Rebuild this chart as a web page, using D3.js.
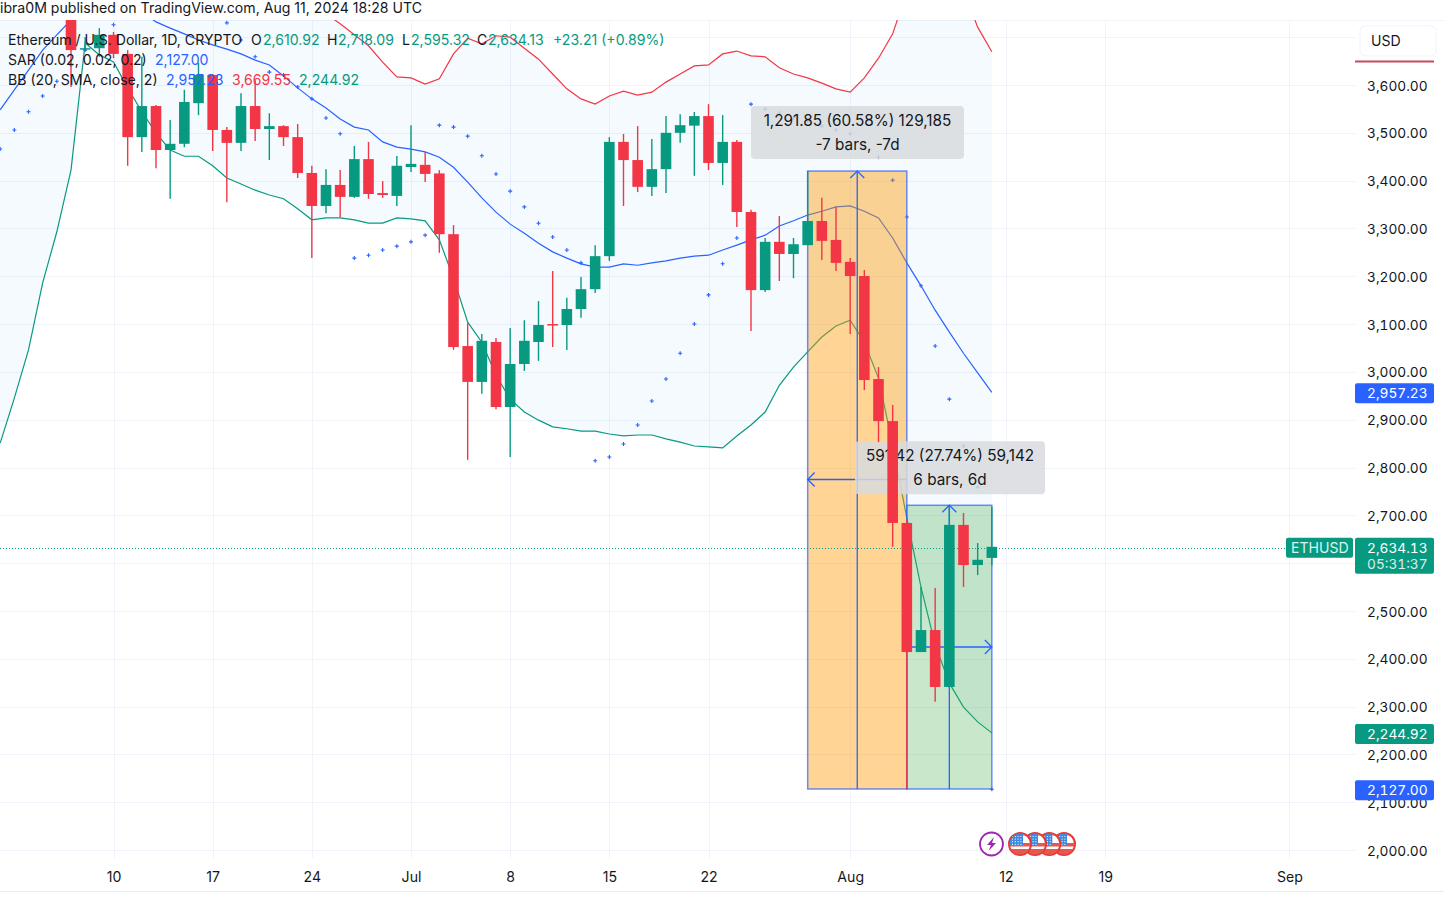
<!DOCTYPE html>
<html>
<head>
<meta charset="utf-8">
<style>
html,body{margin:0;padding:0;background:#fff;overflow:hidden}
svg{display:block}
text{font-family:Inter,"Noto Sans",sans-serif;font-size:14.1px;fill:#131722}
.num text, text.num{font-size:13.7px;font-feature-settings:"tnum"}
</style>
<script src="https://d3js.org/d3.v7.min.js"></script>
</head>
<body>
<svg id="c" width="1444" height="899"></svg>
<script>
// ---------- data ----------
const candleStart = "2024-06-07";
const opens  = [3752,3675,3677,3705,3665,3491,3556,3464,3477,3562,3621,3506,3479,3556,3508,3514,3491,3416,3347,3391,3366,3445,3374,3368,3428.5,3433,3415,3288,3054,2979,3062.5,2926.6,3016.5,3062.5,3100,3098,3131.5,3173,3242,3481,3443,3387,3424,3500,3515,3535,3437,3481,3334.4,3171,3272,3246.6,3265,3315.6,3276,3230,3200.5,2985,2897,2684,2414,2460,2341,2680,2596,2610.92];
const highs  = [3780,3700,3719,3711,3673,3659,3558,3527,3590,3646,3623,3512,3583,3610,3541,3516,3518.5,3431,3424,3422,3472.5,3481,3399,3451.5,3516,3460,3422,3307,3102,3079,3071,3092,3108,3148,3211,3155,3198.5,3265,3491,3497.5,3514,3487,3535,3539,3543.6,3560,3537,3485,3339,3280,3326,3280,3420,3364,3345,3238,3213,3010,2931,2690,2550,2548,2719.5,2705,2642,2718.09];
const lows   = [3596,3673,3659,3656,3431,3460,3426,3362,3470,3537,3462,3355,3462,3483,3443,3472.5,3405.5,3238,3332,3324,3364,3362,3364,3347,3418,3397,3249,3046,2816,2954,2922,2822,3002,3023,3052,3046,3113,3165,3232,3347,3376,3368,3374,3479,3410,3422,3391,3303,3085.5,3167,3190,3196,3265,3234,3211,3079,2962,2853,2634,2127,2414,2310,2339,2550,2575,2595.32];
const closes = [3673,3677,3705,3665,3491,3556,3464,3477,3564.5,3621,3506,3479,3556,3508,3514,3491,3416,3347,3391,3366,3445,3372,3370,3431,3435,3414,3288,3052,2979,3065,2926.6,3016.5,3065,3098,3098,3131.5,3173,3242,3481,3443,3387,3424,3500,3516,3535,3437,3481,3334.4,3171,3272,3246.6,3267,3315.6,3274,3228,3200.5,2983,2897,2684,2414,2460,2341,2680,2596,2607,2634.13];

const bandStart = "2024-06-02";
const bbBasis = [3548,3590,3631,3673,3705,3736,3767,3784,3794,3790,3753,3732,3719,3707,3694,3684,3675,3665,3652,3642,3619,3594,3571,3552,3529,3512,3506,3481,3470,3466,3460,3449,3428,3397,3364,3334,3309,3290,3269,3251,3238,3226,3219,3219,3226,3223,3228,3232,3238,3242,3244,3255,3265,3276,3286,3305,3316,3328,3336,3345,3347,3336,3322,3280,3228,3180,3129,3083,3039,2998,2957.23];
const bbUpper = [4245,4235,4216,4160,4117,4050,3950,3905,3940,3986,3962,3964,3974,3963,3937,3937,3925,3910,3885,3860,3825,3799,3769,3749,3728,3705,3682,3648,3617,3615,3602,3613,3665,3698,3686,3703,3700,3677,3654,3623,3592,3571,3560,3577,3587,3579,3585,3606,3623,3640,3642,3665,3671,3661,3659,3636,3623,3615,3604,3592,3585,3615,3656,3707,3795,3841,3861,3841,3799,3721,3669.55];
const bbLower = [2851,2945,3046,3186,3293,3422,3688,3663,3648,3594,3544,3500,3464,3451,3451,3431,3405.5,3393,3380,3370,3362,3341,3318,3322,3322,3318,3311,3311,3322,3320,3316,3276,3196,3104,3062,2993,2943,2916,2899,2885,2881,2876,2876,2870,2866,2868,2868,2860,2853,2845,2843,2841,2866,2889,2916,2972,3010,3042,3073,3096,3108,3062,2987,2847,2694,2550,2429,2349,2299,2268,2244.92];
const sar = [3466,3506,3544,3577,3608,3642,3673,3700,3726,3850,3835,3822,3810,3795,3780,3760,3730,3694,3659,3627,3621,3596,3571,3531,3498,3238,3244,3255,3263,3272,3286,3516,3512,3493,3452,3414,3378,3345,3311,3282,3255,3228,2814,2822,2849,2889,2939,2985,3039,3100,3161,3226,3280,3560,3550,3541,3531,3523,3514,3506,3498,3479,3449,3401,3324,3180,3054,2943,2845,2759,2127];

const priceTicks = [2000,2100,2200,2300,2400,2500,2600,2700,2800,2900,3000,3100,3200,3300,3400,3500,3600,3700];
const unlabelledPrices = [2600,3700];
const dateTicks = ["2024-06-10","2024-06-17","2024-06-24","2024-07-01","2024-07-08","2024-07-15","2024-07-22","2024-08-01","2024-08-12","2024-08-19","2024-09-01"];
const dateLabels = ["10","17","24","Jul","8","15","22","Aug","12","19","Sep"];

const toolDown = {from:"2024-07-29", mid:"2024-08-01T12:00Z", to:"2024-08-05", hi:3420, lo:2127.6, text:["1,291.85 (60.58%) 129,185","-7 bars, -7d"]};
const toolUp   = {from:"2024-08-05", mid:"2024-08-08", to:"2024-08-11", hi:2721, lo:2127.6, text:["591,42 (27.74%) 59,142","6 bars, 6d"]};
const lastClose = 2634.13, lastBasis = 2957.23, lastLower = 2244.92, lastSar = 2127.00;

// ---------- scales ----------
const W = 1444, H = 899, paneR = 1355, paneT = 20, paneB = 858;
const x = d3.scaleUtc().domain([new Date("2024-06-10"), new Date("2024-08-12")]).range([113.5, 1006]);
const y = d3.scaleLinear().domain([2000, 3600]).range([850, 85]);
const dayAt = (s, i) => d3.utcDay.offset(new Date(s), i);
const GREEN = "#089981", RED = "#F23645", BLUE = "#2962FF";

const svg = d3.select("#c");
svg.append("defs").append("clipPath").attr("id","pane").append("rect")
  .attr("x",0).attr("y",paneT).attr("width",paneR).attr("height",paneB-paneT);

// header
svg.append("text").attr("x",0).attr("y",12.5).text("ibra0M published on TradingView.com, Aug 11, 2024 18:28 UTC");
svg.append("line").attr("x1",0).attr("x2",W).attr("y1",20.5).attr("y2",20.5).attr("stroke","#f0f3fa");
svg.append("line").attr("x1",0).attr("x2",W).attr("y1",891.5).attr("y2",891.5).attr("stroke","#e9ebf0");

// grid
const g = svg.append("g").attr("clip-path","url(#pane)");
g.selectAll("line.h").data(priceTicks).join("line").attr("class","h")
  .attr("x1",0).attr("x2",paneR).attr("y1",d=>Math.round(y(d))+.5).attr("y2",d=>Math.round(y(d))+.5).attr("stroke","#f0f3fa");
g.selectAll("line.v").data(dateTicks).join("line").attr("class","v")
  .attr("x1",d=>Math.round(x(new Date(d)))+.5).attr("x2",d=>Math.round(x(new Date(d)))+.5)
  .attr("y1",paneT).attr("y2",paneB).attr("stroke","#f0f3fa");

// Bollinger band
const bandDays = bbBasis.map((_,i)=>dayAt(bandStart,i));
g.append("path").datum(bandDays.map((d,i)=>({d,u:bbUpper[i],l:bbLower[i]})))
  .attr("fill","#2196F3").attr("fill-opacity",.05)
  .attr("d",d3.area().x(p=>x(p.d)).y0(p=>y(p.l)).y1(p=>y(p.u)));
const ln = d3.line().x((v,i)=>x(bandDays[i])).y(v=>y(v));
g.append("path").attr("d",ln(bbBasis)).attr("fill","none").attr("stroke",BLUE).attr("stroke-width",1.2);
g.append("path").attr("d",ln(bbUpper)).attr("fill","none").attr("stroke",RED).attr("stroke-width",1.2);
g.append("path").attr("d",ln(bbLower)).attr("fill","none").attr("stroke",GREEN).attr("stroke-width",1.2);

// SAR
g.append("g").selectAll("path").data(sar).join("path")
  .attr("transform",(v,i)=>`translate(${x(bandDays[i])},${y(v)})`)
  .attr("d","M-2,0H2M0,-2V2").attr("stroke",BLUE).attr("stroke-width",1.1).attr("fill","none");

// date-range / price-range tools
function tool(t, fill, alpha){
  const x0=x(new Date(t.from)), x1=x(new Date(t.to)), xm=x(new Date(t.mid)), yt=y(t.hi), yb=y(t.lo);
  const tg=g.append("g");
  tg.append("rect").attr("x",x0).attr("y",yt).attr("width",x1-x0).attr("height",yb-yt).attr("fill",fill).attr("fill-opacity",alpha);
  tg.append("rect").attr("x",x0).attr("y",yt).attr("width",x1-x0).attr("height",yb-yt)
    .attr("fill","none").attr("stroke",BLUE).attr("stroke-opacity",.7).attr("stroke-width",1.5);
  const lc=BLUE, sw=1.3;
  tg.append("line").attr("x1",xm).attr("x2",xm).attr("y1",yb).attr("y2",yt).attr("stroke",lc).attr("stroke-width",sw);
  tg.append("path").attr("d",`M${xm-7},${yt+7}L${xm},${yt}L${xm+7},${yt+7}`).attr("fill","none").attr("stroke",lc).attr("stroke-width",sw);
  const yh = t.yh, tipX = t.dir<0?x0:x1;
  tg.append("line").attr("x1",t.dir<0?x1:x0).attr("x2",tipX).attr("y1",yh).attr("y2",yh).attr("stroke",lc).attr("stroke-width",sw);
  tg.append("path").attr("d",`M${tipX-t.dir*7},${yh-7}L${tipX},${yh}L${tipX-t.dir*7},${yh+7}`).attr("fill","none").attr("stroke",lc).attr("stroke-width",sw);
  const bw=t.bw, bx=t.bc-bw/2, by=yt-t.gap-53;
  tg.append("rect").attr("x",bx).attr("y",by).attr("width",bw).attr("height",53).attr("rx",4)
    .attr("fill","#d8dade").attr("fill-opacity",.85);
  tg.selectAll("text").data(t.text).join("text").attr("x",t.bc).attr("y",(d,i)=>by+20+i*24)
    .attr("text-anchor","middle").style("font-size","15.3px").text(d=>d);
}
tool(Object.assign({dir:-1,bw:213,bc:857.5,yh:479.5,gap:12},toolDown),"#FF9800",.42);
tool(Object.assign({dir:1,bw:190,bc:950,yh:647,gap:11},toolUp),"#4CAF50",.3);

// last price line
g.append("line").attr("x1",0).attr("x2",1286).attr("y1",Math.round(y(lastClose))+1.5).attr("y2",Math.round(y(lastClose))+1.5)
  .attr("stroke",GREEN).attr("stroke-dasharray","1 2");

// candles
const cd = opens.map((o,i)=>({t:dayAt(candleStart,i),o,h:highs[i],l:lows[i],c:closes[i]}));
const cg = g.append("g").selectAll("g").data(cd).join("g");
cg.append("line").attr("x1",d=>x(d.t)).attr("x2",d=>x(d.t)).attr("y1",d=>y(d.h)).attr("y2",d=>y(d.l))
  .attr("stroke",d=>d.c>=d.o?GREEN:RED).attr("stroke-width",1.4);
cg.append("rect").attr("x",d=>x(d.t)-5.3).attr("width",10.6)
  .attr("y",d=>Math.min(y(d.o),y(d.c))).attr("height",d=>Math.max(1.5,Math.abs(y(d.o)-y(d.c))))
  .attr("fill",d=>d.c>=d.o?GREEN:RED);

// legend
function legend(yp, items){ items.forEach(it=>svg.append("text").attr("x",it[0]).attr("y",yp).style("fill",it[2]||"#131722").text(it[1])); }
const fmt = d3.format(",.2f");
legend(45,[[8,"Ethereum / U.S. Dollar, 1D, CRYPTO"],[251,"O"],[263,fmt(opens[65]),GREEN],[327,"H"],[338,fmt(highs[65]),GREEN],[402,"L"],[411,fmt(lows[65]),GREEN],[477,"C"],[488,fmt(closes[65]),GREEN],[553,"+23.21 (+0.89%)",GREEN]]);
legend(65,[[8,"SAR (0.02, 0.02, 0.2)"],[155,fmt(lastSar),BLUE]]);
legend(85,[[8,"BB (20, SMA, close, 2)"],[166,fmt(lastBasis),BLUE],[232,fmt(bbUpper[70]),RED],[299,fmt(lastLower),GREEN]]);

// axes
const axY = d3.axisRight(y).tickValues(priceTicks).tickFormat(d=>unlabelledPrices.includes(d)?"":fmt(d)).tickSize(0).tickPadding(12);
const ay = svg.append("g").attr("transform",`translate(${paneR},0.7)`).call(axY);
ay.select(".domain").remove();
ay.selectAll("text").attr("class","num").style("font-family","Inter,'Noto Sans',sans-serif").style("fill","#131722");

const axX = d3.axisBottom(x).tickValues(dateTicks.map(d=>new Date(d))).tickFormat((d,i)=>dateLabels[i]).tickSize(0).tickPadding(0);
const ax = svg.append("g").attr("transform","translate(0,872)").call(axX);
ax.select(".domain").remove();
ax.selectAll("text").style("font-size","14.1px").style("font-family","Inter,'Noto Sans',sans-serif").style("fill","#131722");

// USD selector
svg.append("rect").attr("x",1360).attr("y",26).attr("width",76).attr("height",30).attr("rx",5).attr("fill","#fff").attr("stroke","#f0f3fa");
svg.append("text").attr("x",1371).attr("y",45.5).text("USD");
svg.append("rect").attr("x",1355).attr("y",60.5).attr("width",79).attr("height",2).attr("fill","#C94A5C");

// price labels
function tag(v,color,text2){
  const yc=y(v)+1, h=text2?36:20, top=yc-10;
  svg.append("rect").attr("x",1355).attr("y",top).attr("width",79).attr("height",h).attr("rx",2).attr("fill",color);
  svg.append("text").attr("class","num").attr("x",1367).attr("y",yc+5).style("fill","#fff").text(fmt(v));
  if(text2) svg.append("text").attr("class","num").attr("x",1367).attr("y",yc+21).style("fill","#fff").style("fill-opacity",.85).text(text2);
}
tag(lastBasis,BLUE);
tag(lastLower,GREEN);
tag(lastSar,BLUE);
tag(lastClose,GREEN,"05:31:37");
svg.append("rect").attr("x",1286).attr("y",y(lastClose)-9).attr("width",67).attr("height",20).attr("rx",2).attr("fill",GREEN);
svg.append("text").attr("x",1291).attr("y",y(lastClose)+6).style("fill","#d9f5ee").text("ETHUSD");

// event icons
const ev = svg.append("g");
const ICON_Y = 844;
[1064,1049.3,1035,1020].forEach((cx,i)=>{
  const f=ev.append("g").attr("transform",`translate(${cx},${ICON_Y})`);
  const id="f"+i;
  f.append("clipPath").attr("id",id).append("circle").attr("r",10.5);
  f.append("circle").attr("r",11).attr("fill","#fff").attr("stroke","#E53935").attr("stroke-width",2);
  const inner=f.append("g").attr("clip-path",`url(#${id})`);
  inner.append("rect").attr("x",-12).attr("y",-1).attr("width",24).attr("height",3.5).attr("fill","#E8574F");
  inner.append("rect").attr("x",-12).attr("y",5).attr("width",24).attr("height",7).attr("fill","#E8574F");
  inner.append("rect").attr("x",3).attr("y",-12).attr("width",24).attr("height",3.5).attr("fill","#E8574F");
  inner.append("rect").attr("x",-11).attr("y",-11).attr("width",14).attr("height",12).attr("fill","#3F8AE0");
  d3.range(4).forEach(a=>d3.range(4).forEach(b=>inner.append("circle").attr("cx",-7.5+a*2.8).attr("cy",-7.5+b*2.6).attr("r",.6).attr("fill","#fff")));
});
const bolt=ev.append("g").attr("transform",`translate(991.5,${ICON_Y})`);
bolt.append("circle").attr("r",11.5).attr("fill","#fff").attr("stroke","#9C27B0").attr("stroke-width",1.8);
bolt.append("path").attr("d","M2.5,-7L-4.5,1H-0.5L-3,7L4.5,-1H0.5Z").attr("fill","#9C27B0");
</script>
</body>
</html>
